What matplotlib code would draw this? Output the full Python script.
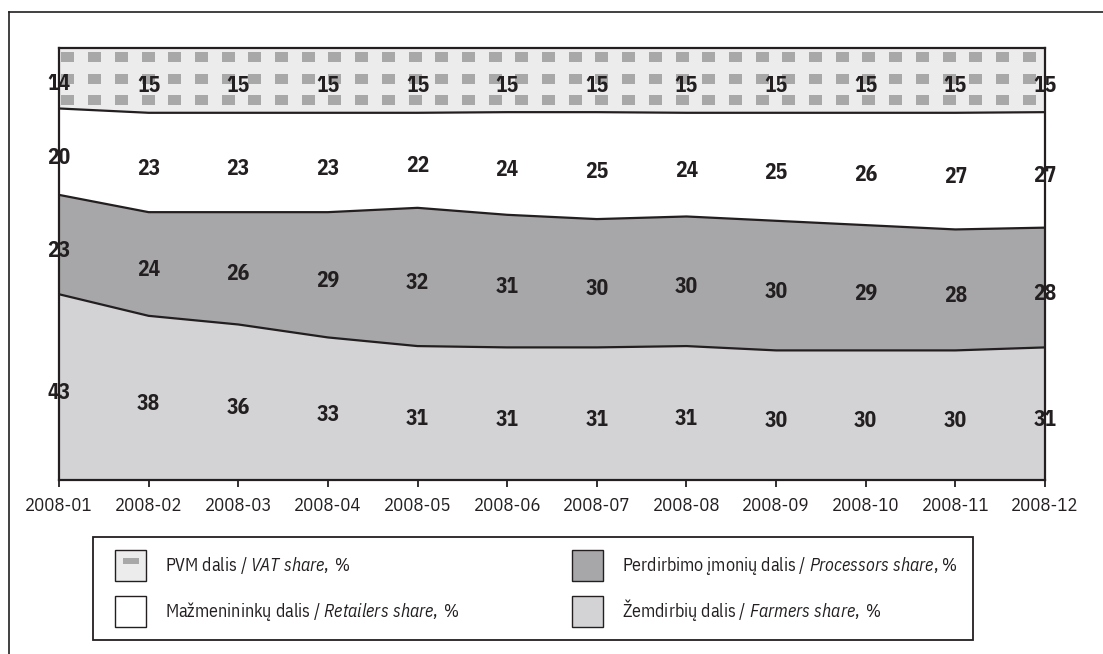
import matplotlib.pyplot as plt
import numpy as np
from matplotlib.lines import Line2D
from matplotlib.patches import Patch, Rectangle
from matplotlib.legend_handler import HandlerTuple

# data (percent)
months = ["2008-01", "2008-02", "2008-03", "2008-04", "2008-05", "2008-06",
          "2008-07", "2008-08", "2008-09", "2008-10", "2008-11", "2008-12"]
farmers = [43, 38, 36, 33, 31, 31, 31, 31, 30, 30, 30, 31]
processors = [23, 24, 26, 29, 32, 31, 30, 30, 30, 29, 28, 28]
retailers = [20, 23, 23, 23, 22, 24, 25, 24, 25, 26, 27, 27]
vat = [14, 15, 15, 15, 15, 15, 15, 15, 15, 15, 15, 15]

labels = [
    r"PVM dalis / $\mathit{VAT\ share,}$ %",
    r"Mažmenininkų dalis / $\mathit{Retailers\ share,}$ %",
    r"Perdirbimo įmonių dalis / $\mathit{Processors\ share}$, %",
    r"Žemdirbių dalis / $\mathit{Farmers\ share,}$ %",
]

FONT = "IBM Plex Sans Condensed"
INK = "#231f20"
C_FARM = "#d3d3d5"
C_PROC = "#a7a7a9"
C_RET = "#ffffff"
C_VAT = "#ececec"
C_SQ = "#a8a8a8"

plt.rcParams["font.family"] = [FONT, "DejaVu Sans"]
plt.rcParams["mathtext.fontset"] = "custom"
plt.rcParams["mathtext.rm"] = FONT
plt.rcParams["mathtext.it"] = FONT + ":italic"

W, H = 1103, 654
fig = plt.figure(figsize=(W / 100, H / 100), dpi=100)
ax = fig.add_axes([59 / W, 1 - 480 / H, 986 / W, 432 / H])

x = np.arange(len(months))
series = [farmers, processors, retailers, vat]
arr = np.array(series, dtype=float)
shares = arr / arr.sum(axis=0) * 100
cum = np.vstack([np.zeros(len(x)), np.cumsum(shares, axis=0)])

colors = [C_FARM, C_PROC, C_RET, C_VAT]
polys = []
for i, c in enumerate(colors):
    polys.append(ax.fill_between(x, cum[i], cum[i + 1], facecolor=c,
                                 edgecolor="none", zorder=1))

# square texture for the VAT band
ph, pw = 432, 986
yy, xx = np.mgrid[0:ph, 0:pw]
sq = ((xx - 2) % 26.7 < 13) & ((yy - 4) % 21.5 < 10)
light = np.array([236, 236, 236]) / 255
dark = np.array([168, 168, 168]) / 255
tex = np.where(sq[..., None], dark, light)
im = ax.imshow(tex, extent=(0, len(x) - 1, 0, 100), aspect="auto",
               origin="upper", interpolation="nearest", zorder=1.5)
im.set_clip_path(polys[3].get_paths()[0], transform=ax.transData)

for i in range(1, 4):
    ax.plot(x, cum[i], color=INK, lw=1.6, zorder=2)

# value labels, sitting a bit below the band centre like the original
for i, s in enumerate(series):
    mids = (cum[i] + cum[i + 1]) / 2
    for j, v in enumerate(s):
        ax.annotate(str(v), (x[j], mids[j]), xytext=(0, -4),
                    textcoords="offset points", ha="center", va="center",
                    fontsize=15.5, fontweight="bold", color=INK, zorder=3)

ax.set_xlim(0, len(x) - 1)
ax.set_ylim(0, 100)
ax.set_xticks(x)
ax.set_xticklabels(months)
ax.set_yticks([])
ax.tick_params(axis="x", direction="out", length=5, width=1.3, color=INK,
               labelsize=13.5, labelcolor=INK, pad=7.5)
for sp in ax.spines.values():
    sp.set_color(INK)
    sp.set_linewidth(1.6)
    sp.set_zorder(4)

# legend (frame drawn separately so the padding matches)
vat_handle = (Patch(facecolor=C_VAT, edgecolor=INK, lw=1.0),
              Line2D([], [], ls="none", color=C_SQ,
                     marker=[(-1, -0.4), (1, -0.4), (1, 0.4), (-1, 0.4), (-1, -0.4)],
                     markersize=12, markeredgewidth=0))
handles = [vat_handle,
           Patch(facecolor=C_RET, edgecolor=INK, lw=1.0),
           Patch(facecolor=C_PROC, edgecolor=INK, lw=1.0),
           Patch(facecolor=C_FARM, edgecolor=INK, lw=1.0)]
leg = fig.legend(handles, labels, ncol=2, loc="upper left",
                 bbox_to_anchor=(115 / W, 1 - 550 / H), borderaxespad=0,
                 fontsize=13, handlelength=1.72, handleheight=2.27,
                 handletextpad=1.05, labelspacing=0.83, borderpad=0,
                 columnspacing=6.2, frameon=False,
                 handler_map={tuple: HandlerTuple(ndivide=1, pad=0)})
for t in leg.get_texts():
    t.set_color(INK)
fig.add_artist(Rectangle((93 / W, 1 - 640 / H), 880 / W, 103 / H,
                         transform=fig.transFigure, facecolor="none",
                         edgecolor=INK, lw=1.3))

# outer frame lines
fig.add_artist(Line2D([9 / W, 1], [1 - 12 / H, 1 - 12 / H], color=INK, lw=1.2))
fig.add_artist(Line2D([9 / W, 9 / W], [0, 1 - 12 / H], color=INK, lw=1.2))

fig.savefig("out.png", dpi=100)
